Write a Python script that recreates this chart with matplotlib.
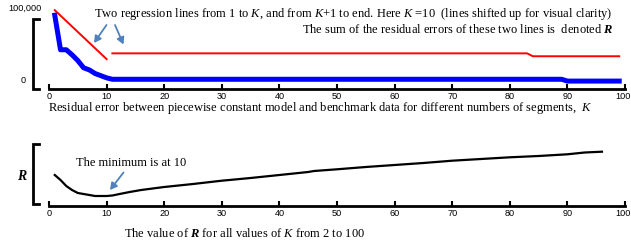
import matplotlib
matplotlib.use("Agg")
import matplotlib.pyplot as plt
import matplotlib.patches as mpatches
import matplotlib.transforms as mtransforms
from matplotlib.lines import Line2D

plt.rcParams["mathtext.fontset"] = "custom"
plt.rcParams["mathtext.rm"] = "Liberation Serif"
plt.rcParams["mathtext.it"] = "Liberation Serif:italic"
plt.rcParams["mathtext.bf"] = "Liberation Serif:bold"
plt.rcParams["mathtext.bfit"] = "Liberation Serif:bold:italic"

# ---------------- data ----------------
blue_k = [1, 2, 3, 4, 5, 6, 7, 8, 9, 10, 11, 89, 90, 99]
blue_v = [90000, 42000, 42000, 35000, 27000, 17000, 14000, 9000, 6000, 3000, 1000, 1000, -1500, -1500]

red1_k = [1, 10]
red1_v = [97000, 29000]
red2_k = [11, 83, 84, 99]
red2_v = [37000, 37000, 33000, 33000]

r_k = [1, 2, 3, 4, 5, 6, 8, 10, 11, 12, 14, 16, 18, 20, 25, 30, 35, 40, 45, 46,
       50, 55, 60, 65, 70, 75, 80, 85, 90, 93, 96]
r_v = [31, 26, 20, 16, 13, 12, 10, 10, 10.5, 11.7, 14, 16, 17.5, 19, 22, 25.3, 28, 31, 34, 35,
       36.7, 39, 41, 43, 45.3, 47, 48.7, 50, 51.7, 53.5, 54.3]

xticks = list(range(0, 101, 10))
top_ylabels = ["0", "100,000"]

# ---------------- figure ----------------
W, H = 631, 245
fig = plt.figure(figsize=(W / 100, H / 100), dpi=100)
serif = ["Liberation Serif", "DejaVu Serif"]
sans = ["Liberation Sans", "DejaVu Sans"]
arrow_col = "#4f81bd"
FS = 9.0
TS = 6.6


def px_axes(left, right, top, bottom):
    return fig.add_axes([left / W, (H - bottom) / H, (right - left) / W, (bottom - top) / H])


def style_axis(ax):
    for s in ["left", "right", "top"]:
        ax.spines[s].set_visible(False)
    ax.spines["bottom"].set_linewidth(2.0)
    ax.set_xlim(0, 100)
    ax.set_xticks(xticks)
    ax.tick_params(axis="x", direction="in", length=3.5, width=1.5, pad=2.5, labelsize=TS)
    for lab in ax.get_xticklabels():
        lab.set_family(sans)
    ax.set_yticks([])
    ax.patch.set_alpha(0)
    last = ax.xaxis.get_major_ticks()[-1].label1
    last.set_transform(last.get_transform() +
                       mtransforms.ScaledTranslation(-2.0 / 100, 0, fig.dpi_scale_trans))


def bracket(ax, top_pix, bottom_pix, ax_top, ax_bottom, ax_left):
    x0 = (33 - ax_left) / 576
    x1 = (39 - ax_left) / 576
    h = ax_bottom - ax_top
    yt = (ax_bottom - top_pix) / h
    yb = (ax_bottom - bottom_pix) / h
    ln = Line2D([x1, x0, x0, x1], [yt, yt, yb, yb], transform=ax.transAxes,
                color="black", lw=2.0, clip_on=False, solid_joinstyle="miter")
    ax.add_line(ln)


def arrow(xs, ys, xe, ye):
    fig.patches.append(mpatches.FancyArrowPatch(
        (xs / W, 1 - ys / H), (xe / W, 1 - ye / H), transform=fig.transFigure,
        arrowstyle="-|>,head_length=4,head_width=2.2", color=arrow_col, lw=1.3,
        shrinkA=0, shrinkB=0))


# ---------------- top panel ----------------
t_top, t_bot = 5, 89
ax1 = px_axes(49, 625, t_top, t_bot)
style_axis(ax1)
ymin = (80 - t_bot) / 72 * 1e5
ymax = (80 - t_top) / 72 * 1e5
ax1.set_ylim(ymin, ymax)
ax1.plot(blue_k, blue_v, color="#0000ff", lw=3.6, solid_joinstyle="round", clip_on=False)
ax1.plot(red1_k, red1_v, color="#ff0000", lw=1.4, clip_on=False)
ax1.plot(red2_k, red2_v, color="#ff0000", lw=1.4, clip_on=False)
bracket(ax1, 19, 89, t_top, t_bot, 49)
ax1.text(-0.040, 0, top_ylabels[0], transform=ax1.get_yaxis_transform(), ha="right", va="center",
         fontsize=TS, family=sans)
ax1.text(-0.012, 100000, top_ylabels[1], transform=ax1.get_yaxis_transform(), ha="right", va="center",
         fontsize=TS, family=sans, clip_on=False)

fig.text(94 / W, 1 - 14 / H,
         "Two regression lines from 1 to $K$, and from $K$+1 to end. Here $K$ =10  (lines shifted up for visual clarity)",
         ha="left", va="center", fontsize=FS, family=serif)
fig.text(614 / W, 1 - 29.5 / H,
         "The sum of the residual errors of these two lines is  denoted $\\mathbfit{R}$",
         ha="right", va="center", fontsize=FS, family=serif)
fig.text(320 / W, 1 - 108.5 / H,
         "Residual error between piecewise constant model and benchmark data for different numbers of segments,  $K$",
         ha="center", va="center", fontsize=FS, family=serif)
arrow(106.5, 25, 94, 43)
arrow(115, 25, 123.5, 44.5)

# ---------------- bottom panel ----------------
b_top, b_bot = 140, 206
ax2 = px_axes(49, 625, b_top, b_bot)
style_axis(ax2)
ax2.set_ylim(0, b_bot - b_top)
ax2.plot(r_k, r_v, color="black", lw=1.6, clip_on=False)
bracket(ax2, 144, 204, b_top, b_bot, 49)
fig.text(22.5 / W, 1 - 176.5 / H, "$\\mathbfit{R}$", ha="center", va="center", fontsize=10, family=serif)
fig.text(76 / W, 1 - 162.5 / H, "The minimum is at 10", ha="left", va="center", fontsize=FS, family=serif)
arrow(123.5, 172.5, 110, 190)
fig.text(245 / W, 1 - 233.5 / H,
         "The value of $\\mathbfit{R}$ for all values of $K$ from 2 to 100",
         ha="center", va="center", fontsize=FS, family=serif)

fig.savefig("out.png", dpi=100)
